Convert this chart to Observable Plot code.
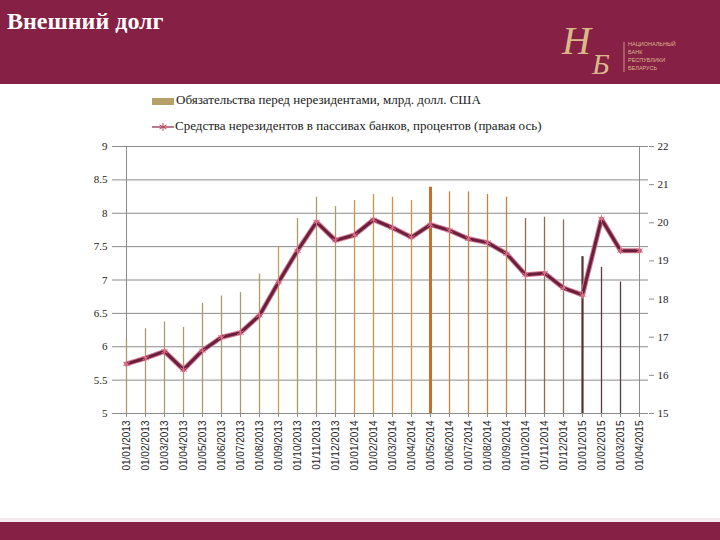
<!DOCTYPE html>
<html>
<head>
<meta charset="utf-8">
<script src="https://cdn.jsdelivr.net/npm/d3@7"></script>
<script src="https://cdn.jsdelivr.net/npm/@observablehq/plot@0.6"></script>
<style>
  html, body { margin: 0; padding: 0; background: #fff; }
  #page { position: relative; width: 720px; height: 540px; overflow: hidden; background: #fff; }
  #header { position: absolute; left: 0; top: 0; width: 720px; height: 84px; background: #862044; }
  #title { position: absolute; left: 7px; top: 8px; color: #fff; font: bold 24px "Liberation Serif", serif; }
  #logo { position: absolute; left: 540px; top: 8px; }
  #footer { position: absolute; left: 0; top: 522px; width: 720px; height: 18px; background: #862044; }
  #footline { position: absolute; left: 0; top: 518px; width: 720px; height: 4px; background: #f6e8ee; }
  .leg { position: absolute; font: 13px "Liberation Serif", serif; color: #1a1a1a; white-space: nowrap; }
  #chart { position: absolute; left: 0; top: 140px; }
</style>
</head>
<body>
<div id="page">
  <div id="header">
    <div id="title">Внешний долг</div>
    <svg id="logo" width="170" height="72">
      <text x="22" y="46" fill="#d9b98a" font-family="Liberation Serif" font-style="italic" font-size="40">Н</text>
      <text x="52" y="66" fill="#d9b98a" font-family="Liberation Serif" font-style="italic" font-size="30">Б</text>
      <line x1="84" y1="34" x2="84" y2="64" stroke="#d9b98a" stroke-width="0.8"/>
      <text x="88" y="38" fill="#d9b98a" font-family="Liberation Sans" font-size="5.5">НАЦИОНАЛЬНЫЙ</text>
      <text x="88" y="46" fill="#d9b98a" font-family="Liberation Sans" font-size="5.5">БАНК</text>
      <text x="88" y="54" fill="#d9b98a" font-family="Liberation Sans" font-size="5.5">РЕСПУБЛИКИ</text>
      <text x="88" y="62" fill="#d9b98a" font-family="Liberation Sans" font-size="5.5">БЕЛАРУСЬ</text>
    </svg>
  </div>
  <div class="leg" style="left:152px; top:92px;"><span style="display:inline-block;width:22px;height:7px;background:#b5a06a;vertical-align:middle;margin-right:2px;"></span>Обязательства перед нерезидентами, млрд. долл. США</div>
  <div class="leg" style="left:152px; top:118px;"><svg width="22" height="10" style="vertical-align:middle;margin-right:1px;"><line x1="0" y1="5" x2="22" y2="5" stroke="#8b2346" stroke-width="1.2"/><g stroke="#c0405a" stroke-width="1"><line x1="11" y1="1" x2="11" y2="9"/><line x1="7.5" y1="3" x2="14.5" y2="7"/><line x1="7.5" y1="7" x2="14.5" y2="3"/></g></svg>Средства нерезидентов в пассивах банков, процентов (правая ось)</div>
  <div id="chart"></div>
  <div id="footline"></div>
  <div id="footer"></div>
</div>
<script>
const dates = ["01/01/2013","01/02/2013","01/03/2013","01/04/2013","01/05/2013","01/06/2013","01/07/2013","01/08/2013","01/09/2013","01/10/2013","01/11/2013","01/12/2013","01/01/2014","01/02/2014","01/03/2014","01/04/2014","01/05/2014","01/06/2014","01/07/2014","01/08/2014","01/09/2014","01/10/2014","01/11/2014","01/12/2014","01/01/2015","01/02/2015","01/03/2015","01/04/2015"];
const debt = [6.12,6.27,6.37,6.29,6.65,6.76,6.81,7.09,7.50,7.92,8.24,8.10,8.19,8.28,8.24,8.19,8.39,8.32,8.32,8.28,8.24,7.92,7.94,7.90,7.35,7.19,6.97,null];
const share = [16.30,16.45,16.63,16.15,16.65,17.00,17.12,17.57,18.44,19.27,20.02,19.54,19.68,20.08,19.87,19.62,19.95,19.80,19.58,19.48,19.19,18.64,18.68,18.29,18.11,20.10,19.27,19.27];
const leftTicks = [5,5.5,6,6.5,7,7.5,8,8.5,9];
const rightTicks = [15,16,17,18,19,20,21,22];

// styles (kept separate from data)
const barColors = ["#ab9b6c","#ab9b6c","#ab9b6c","#ab9b6c","#ab9b6c","#ab9b6c","#ab9b6c","#b09c62","#c6a04e","#a89c6c","#a89c6c","#a89c6c","#d8913e","#d8913e","#d8913e","#d8913e","#c8702a","#c4843e","#c4843e","#c4843e","#c4843e","#8e6c50","#8e6c50","#8e6c50","#5a2e30","#5e3a40","#5e3a40","#5e3a40"];
const barWidths = dates.map((d, i) => i === 16 ? 3 : i === 24 ? 2.2 : 1.3);

const toLeft = v => 5 + (v - 15) * 4 / 7;
const fromLeft = v => 15 + (v - 5) * 7 / 4;

const rows = dates.map((d, i) => ({date: d, debt: debt[i], share: share[i], i}));
const barRows = rows.filter(r => r.debt != null);

const chart = Plot.plot({
  width: 720,
  height: 340,
  marginTop: 6,
  marginBottom: 67,
  marginLeft: 116,
  marginRight: 72,
  style: {fontFamily: "Liberation Serif", fontSize: "11px", color: "#222", background: "transparent"},
  x: {type: "point", domain: dates, padding: 0, label: null},
  y: {domain: [5, 9], label: null},
  color: {type: "identity"},
  marks: [
    Plot.ruleY(leftTicks, {stroke: "#8c8c8c", strokeWidth: 1}),
    Plot.ruleX([dates[0], dates[dates.length - 1]], {y1: 5, y2: 9, stroke: "#8c8c8c"}),
    Plot.ruleX(barRows, {x: "date", y1: 5, y2: "debt", stroke: d => barColors[d.i], strokeWidth: d => barWidths[d.i]}),
    Plot.line(rows, {x: "date", y: d => toLeft(d.share), stroke: "#d07a8c", strokeWidth: 5, strokeLinejoin: "round"}),
    Plot.line(rows, {x: "date", y: d => toLeft(d.share), stroke: "#6b1f3f", strokeWidth: 3, strokeLinejoin: "round"}),
    Plot.dot(rows, {x: "date", y: d => toLeft(d.share), symbol: "asterisk", r: 3.5, stroke: "#e07088", strokeWidth: 1}),
    Plot.axisY(leftTicks, {anchor: "left", tickSize: 4, tickPadding: 5, stroke: "#8c8c8c", fill: "#222", fontSize: 11, tickFormat: d => String(d)}),
    Plot.axisY(rightTicks.map(toLeft), {anchor: "right", tickSize: 5, tickPadding: 4, stroke: "#8c8c8c", fill: "#222", fontSize: 11, tickFormat: d => String(Math.round(fromLeft(d)))}),
    Plot.axisX(dates, {anchor: "bottom", tickSize: 4, tickPadding: 3, tickRotate: -90, stroke: "#8c8c8c", fill: "#222", fontFamily: "Liberation Sans", fontSize: 10})
  ]
});
document.getElementById("chart").appendChild(chart);
</script>
</body>
</html>
